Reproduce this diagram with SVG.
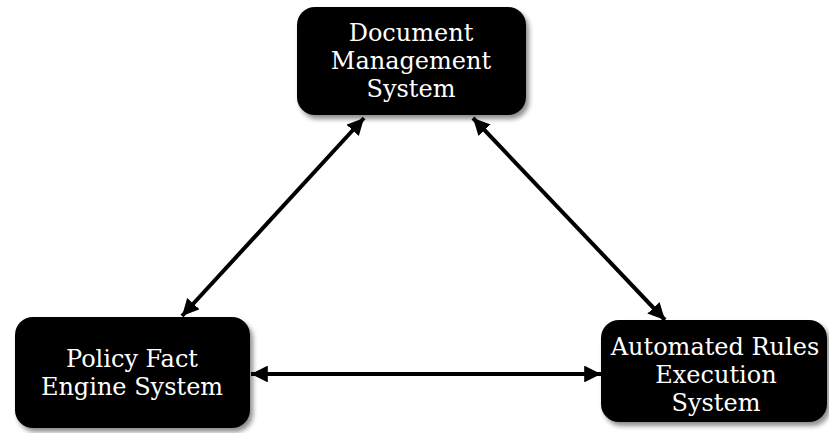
<svg xmlns="http://www.w3.org/2000/svg" width="829" height="433" viewBox="0 0 829 433">
  <style>
    .box { fill: #000; filter: url(#shadow); }
    .label { fill: #fff; font-family: "DejaVu Serif", "Liberation Serif", serif; font-size: 24px; text-anchor: middle; }
    .link { stroke: #000; stroke-width: 4; fill: none; marker-start: url(#head); marker-end: url(#head); }
  </style>
  <defs>
    <filter id="shadow" x="-10%" y="-10%" width="125%" height="130%">
      <feGaussianBlur in="SourceAlpha" stdDeviation="2.5"/>
      <feOffset dx="3" dy="4" result="blur"/>
      <feComponentTransfer><feFuncA type="linear" slope="0.45"/></feComponentTransfer>
      <feMerge><feMergeNode/><feMergeNode in="SourceGraphic"/></feMerge>
    </filter>
    <marker id="head" viewBox="0 0 10 10" refX="10" refY="5" markerWidth="4.2" markerHeight="4.2" orient="auto-start-reverse">
      <path d="M0,0 L10,5 L0,10 z" fill="#000"/>
    </marker>
  </defs>

  <g id="connectors">
    <line class="link" x1="182" y1="316" x2="364" y2="118"/>
    <line class="link" x1="473" y1="118" x2="665" y2="320"/>
    <line class="link" x1="251" y1="374" x2="601" y2="374"/>
  </g>

  <g id="document-management">
    <rect class="box" x="297" y="7" width="229" height="108" rx="18"/>
    <text class="label" x="411" y="41">Document</text>
    <text class="label" x="411" y="69">Management</text>
    <text class="label" x="411" y="97">System</text>
  </g>

  <g id="policy-fact-engine">
    <rect class="box" x="15" y="317" width="235" height="111" rx="18"/>
    <text class="label" x="132" y="367">Policy Fact</text>
    <text class="label" x="132" y="395">Engine System</text>
  </g>

  <g id="automated-rules-execution">
    <rect class="box" x="601" y="320" width="226" height="102" rx="18"/>
    <text class="label" x="715" y="355">Automated Rules</text>
    <text class="label" x="716" y="383">Execution</text>
    <text class="label" x="716" y="411">System</text>
  </g>
</svg>
